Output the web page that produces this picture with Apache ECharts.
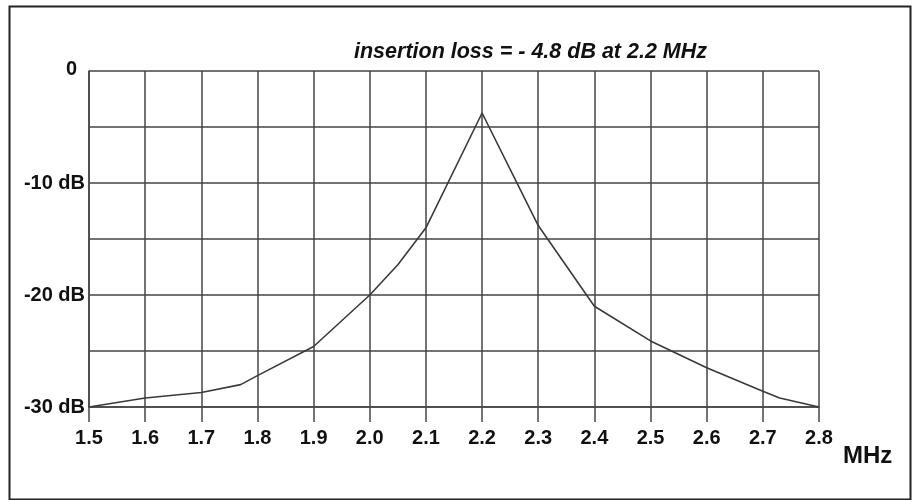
<!DOCTYPE html>
<html>
<head>
<meta charset="utf-8">
<script src="https://cdn.jsdelivr.net/npm/echarts@6/dist/echarts.min.js"></script>
<style>html,body{margin:0;padding:0;background:#fff}#c{width:914px;height:500px}</style>
</head>
<body>
<div id="c"></div>
<script>
// Frequency (MHz) and attenuation (dB)
const freq = [1.5, 1.6, 1.7, 1.77, 1.8, 1.9, 2.0, 2.05, 2.1, 2.2, 2.3, 2.4, 2.5, 2.6, 2.7, 2.73, 2.8];
const loss = [-30, -29.2, -28.7, -28.0, -27.2, -24.6, -20.0, -17.3, -14.0, -3.75, -13.8, -21.0, -24.1, -26.5, -28.6, -29.2, -30];
const titleText = 'insertion loss = - 4.8 dB at 2.2 MHz';
const xUnit = 'MHz';
const yUnit = 'dB';

const FONT = 'Liberation Sans, Arial, sans-serif';
const GRID_COLOR = '#454545';
const chart = echarts.init(document.getElementById('c'), null, {renderer: 'canvas'});
chart.setOption({
  backgroundColor: '#fff',
  animation: false,
  title: {
    text: titleText,
    left: 349, top: 36,
    textStyle: {fontFamily: FONT, fontSize: 21.5, fontStyle: 'italic', fontWeight: 'bold', color: '#111'}
  },
  graphic: [{
    type: 'rect', left: 7, top: 4, z: -1,
    shape: {width: 901, height: 493},
    style: {fill: 'none', stroke: '#222', lineWidth: 2}
  }, {
    type: 'text', left: 843, top: 444,
    style: {text: xUnit, font: 'bold 24px ' + FONT, fill: '#111'}
  }],
  grid: {left: 89, right: 95, top: 71, bottom: 93},
  xAxis: {
    type: 'value', min: 1.5, max: 2.8, interval: 0.1,
    axisLine: {show: true, onZero: false, lineStyle: {color: GRID_COLOR, width: 1.5}},
    axisTick: {show: true, length: 15, lineStyle: {color: GRID_COLOR, width: 1.5}},
    axisLabel: {margin: 21, fontFamily: FONT, fontSize: 20, fontWeight: 'bold', color: '#111',
      formatter: v => v.toFixed(1), showMinLabel: true, showMaxLabel: true},
    splitLine: {show: true, lineStyle: {color: GRID_COLOR, width: 1.5}}
  },
  yAxis: {
    type: 'value', min: -30, max: 0, interval: 5,
    axisLine: {show: true, lineStyle: {color: GRID_COLOR, width: 1.5}},
    axisTick: {show: false},
    axisLabel: {margin: 4, fontFamily: FONT, fontSize: 20, fontWeight: 'bold', color: '#111',
      formatter: v => {
        if (v === 0) return '{z|0}';
        if (v % 10 !== 0) return '';
        return v + ' ' + yUnit;
      },
      rich: {z: {fontFamily: FONT, fontSize: 20, fontWeight: 'bold', color: '#111', padding: [0, 8, 4, 0]}}
    },
    splitLine: {show: true, lineStyle: {color: GRID_COLOR, width: 1.5}}
  },
  series: [{
    type: 'line',
    data: freq.map((f, i) => [f, loss[i]]),
    showSymbol: false,
    lineStyle: {color: '#3a3a3a', width: 1.6},
    z: 5
  }]
});
</script>
</body>
</html>
